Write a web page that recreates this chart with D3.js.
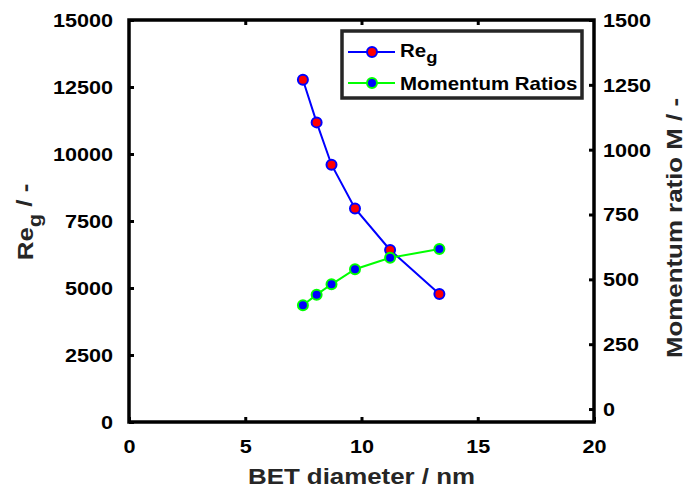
<!DOCTYPE html>
<html>
<head>
<meta charset="utf-8">
<script src="https://cdn.jsdelivr.net/npm/d3@7"></script>
<style>
  html, body { margin: 0; padding: 0; background: #fff; }
  svg { display: block; }
  text { font-family: "Liberation Sans", Arial, Helvetica, sans-serif; font-weight: bold; }
</style>
</head>
<body>
<svg id="chart" width="686" height="490"></svg>
<script>
// BET diameter (nm) of each sample
const diameter = [7.48, 8.07, 8.71, 9.72, 11.23, 13.35];
// Gas Reynolds number Re_g (left axis)
const reynolds = [12770, 11180, 9600, 7970, 6420, 4780];
// Momentum ratio M (right axis)
const momentum = [400, 441, 481, 539, 583, 617];

// Tick values
const xTicks = [0, 5, 10, 15, 20];
const leftTicks = [0, 2500, 5000, 7500, 10000, 12500, 15000];
const rightTicks = [0, 250, 500, 750, 1000, 1250, 1500];

const svg = d3.select("#chart");
const STRETCH = 1.15; // glyphs are drawn wider than the base face

const box = { left: 129, right: 594, top: 20, bottom: 422 };

const x = d3.scaleLinear().domain([0, 20]).range([box.left, box.right]);
const yL = d3.scaleLinear().domain([0, 15000]).range([box.bottom, box.top]);
const yR = d3.scaleLinear().domain([-50, 1500]).range([box.bottom, box.top]);

// widened text placed at (tx, ty), optionally rotated
function label(parent, tx, ty, rot, size, anchor, fill) {
  return parent.append("g")
    .attr("transform", `translate(${tx},${ty}) rotate(${rot}) scale(${STRETCH},1)`)
    .append("text")
    .attr("text-anchor", anchor)
    .attr("font-size", size)
    .attr("fill", fill);
}

function styleAxis(g) {
  g.select(".domain").remove();
  g.selectAll(".tick line").attr("stroke", "#000").attr("stroke-width", 3);
  g.selectAll(".tick text")
    .attr("font-size", 18.8)
    .attr("fill", "#000")
    .attr("font-family", null);
}

// bottom axis
const gx = svg.append("g")
  .attr("transform", `translate(0,${box.bottom})`)
  .call(d3.axisBottom(x).tickValues(xTicks).tickSize(-5).tickSizeOuter(0).tickFormat(d3.format("d")));
styleAxis(gx);
gx.selectAll(".tick text").attr("y", 17.5).attr("dy", "0.71em")
  .attr("transform", `scale(${STRETCH},1)`);

// top axis (ticks only)
const gt = svg.append("g")
  .attr("transform", `translate(0,${box.top})`)
  .call(d3.axisTop(x).tickValues([5, 10, 15]).tickSize(-5).tickSizeOuter(0).tickFormat(""));
styleAxis(gt);

// left axis
const gl = svg.append("g")
  .attr("transform", `translate(${box.left},0)`)
  .call(d3.axisLeft(yL).tickValues(leftTicks).tickSize(-5).tickSizeOuter(0).tickFormat(d3.format("d")));
styleAxis(gl);
gl.selectAll(".tick text").attr("x", -16 / STRETCH).attr("dy", "0.34em")
  .attr("transform", `scale(${STRETCH},1)`);

// right axis
const gr = svg.append("g")
  .attr("transform", `translate(${box.right},0)`)
  .call(d3.axisRight(yR).tickValues(rightTicks).tickSize(-5).tickSizeOuter(0).tickFormat(d3.format("d")));
styleAxis(gr);
gr.selectAll(".tick text").attr("x", 9 / STRETCH).attr("dy", "0.34em")
  .attr("transform", `scale(${STRETCH},1)`);

// frame
svg.append("rect")
  .attr("x", box.left).attr("y", box.top)
  .attr("width", box.right - box.left).attr("height", box.bottom - box.top)
  .attr("fill", "none").attr("stroke", "#000").attr("stroke-width", 3.5);

// axis titles
label(svg, x(10), 484, 0, 22.5, "middle", "#262626").text("BET diameter / nm");

const lt = label(svg, 33, 222, -90, 22.5, "middle", "#262626");
lt.append("tspan").text("Re");
lt.append("tspan").attr("dy", "0.4em").attr("font-size", 19).text("g");
lt.append("tspan").attr("dy", "-0.4em").text(" / -");

label(svg, 682, 228, -90, 22.5, "middle", "#262626").text("Momentum ratio M / -");

// series
const pts = (ys, yScale) => diameter.map((d, i) => [x(d), yScale(ys[i])]);

function series(data, lineColor, fillColor) {
  svg.append("path")
    .attr("d", d3.line()(data))
    .attr("fill", "none").attr("stroke", lineColor).attr("stroke-width", 2);
  svg.append("g").selectAll("circle").data(data).join("circle")
    .attr("cx", d => d[0]).attr("cy", d => d[1]).attr("r", 5)
    .attr("fill", fillColor).attr("stroke", lineColor).attr("stroke-width", 2);
}

series(pts(reynolds, yL), "#0000ff", "#ff0000");
series(pts(momentum, yR), "#00ff00", "#0000ff");

// legend
const lg = svg.append("g");
lg.append("rect").attr("x", 342).attr("y", 31).attr("width", 240).attr("height", 67)
  .attr("fill", "#fff").attr("stroke", "#262626").attr("stroke-width", 3.5);

const legendItems = [
  { y: 52, line: "#0000ff", fill: "#ff0000" },
  { y: 83, line: "#00ff00", fill: "#0000ff" }
];
legendItems.forEach(it => {
  lg.append("line").attr("x1", 348).attr("x2", 395).attr("y1", it.y).attr("y2", it.y)
    .attr("stroke", it.line).attr("stroke-width", 2);
  lg.append("circle").attr("cx", 372).attr("cy", it.y).attr("r", 5)
    .attr("fill", it.fill).attr("stroke", it.line).attr("stroke-width", 2);
});
const l1 = label(lg, 400, 57, 0, 17.8, "start", "#000");
l1.append("tspan").text("Re");
l1.append("tspan").attr("dy", "0.4em").attr("font-size", 16).text("g");
label(lg, 400, 90, 0, 17.8, "start", "#000").text("Momentum Ratios");
</script>
</body>
</html>
